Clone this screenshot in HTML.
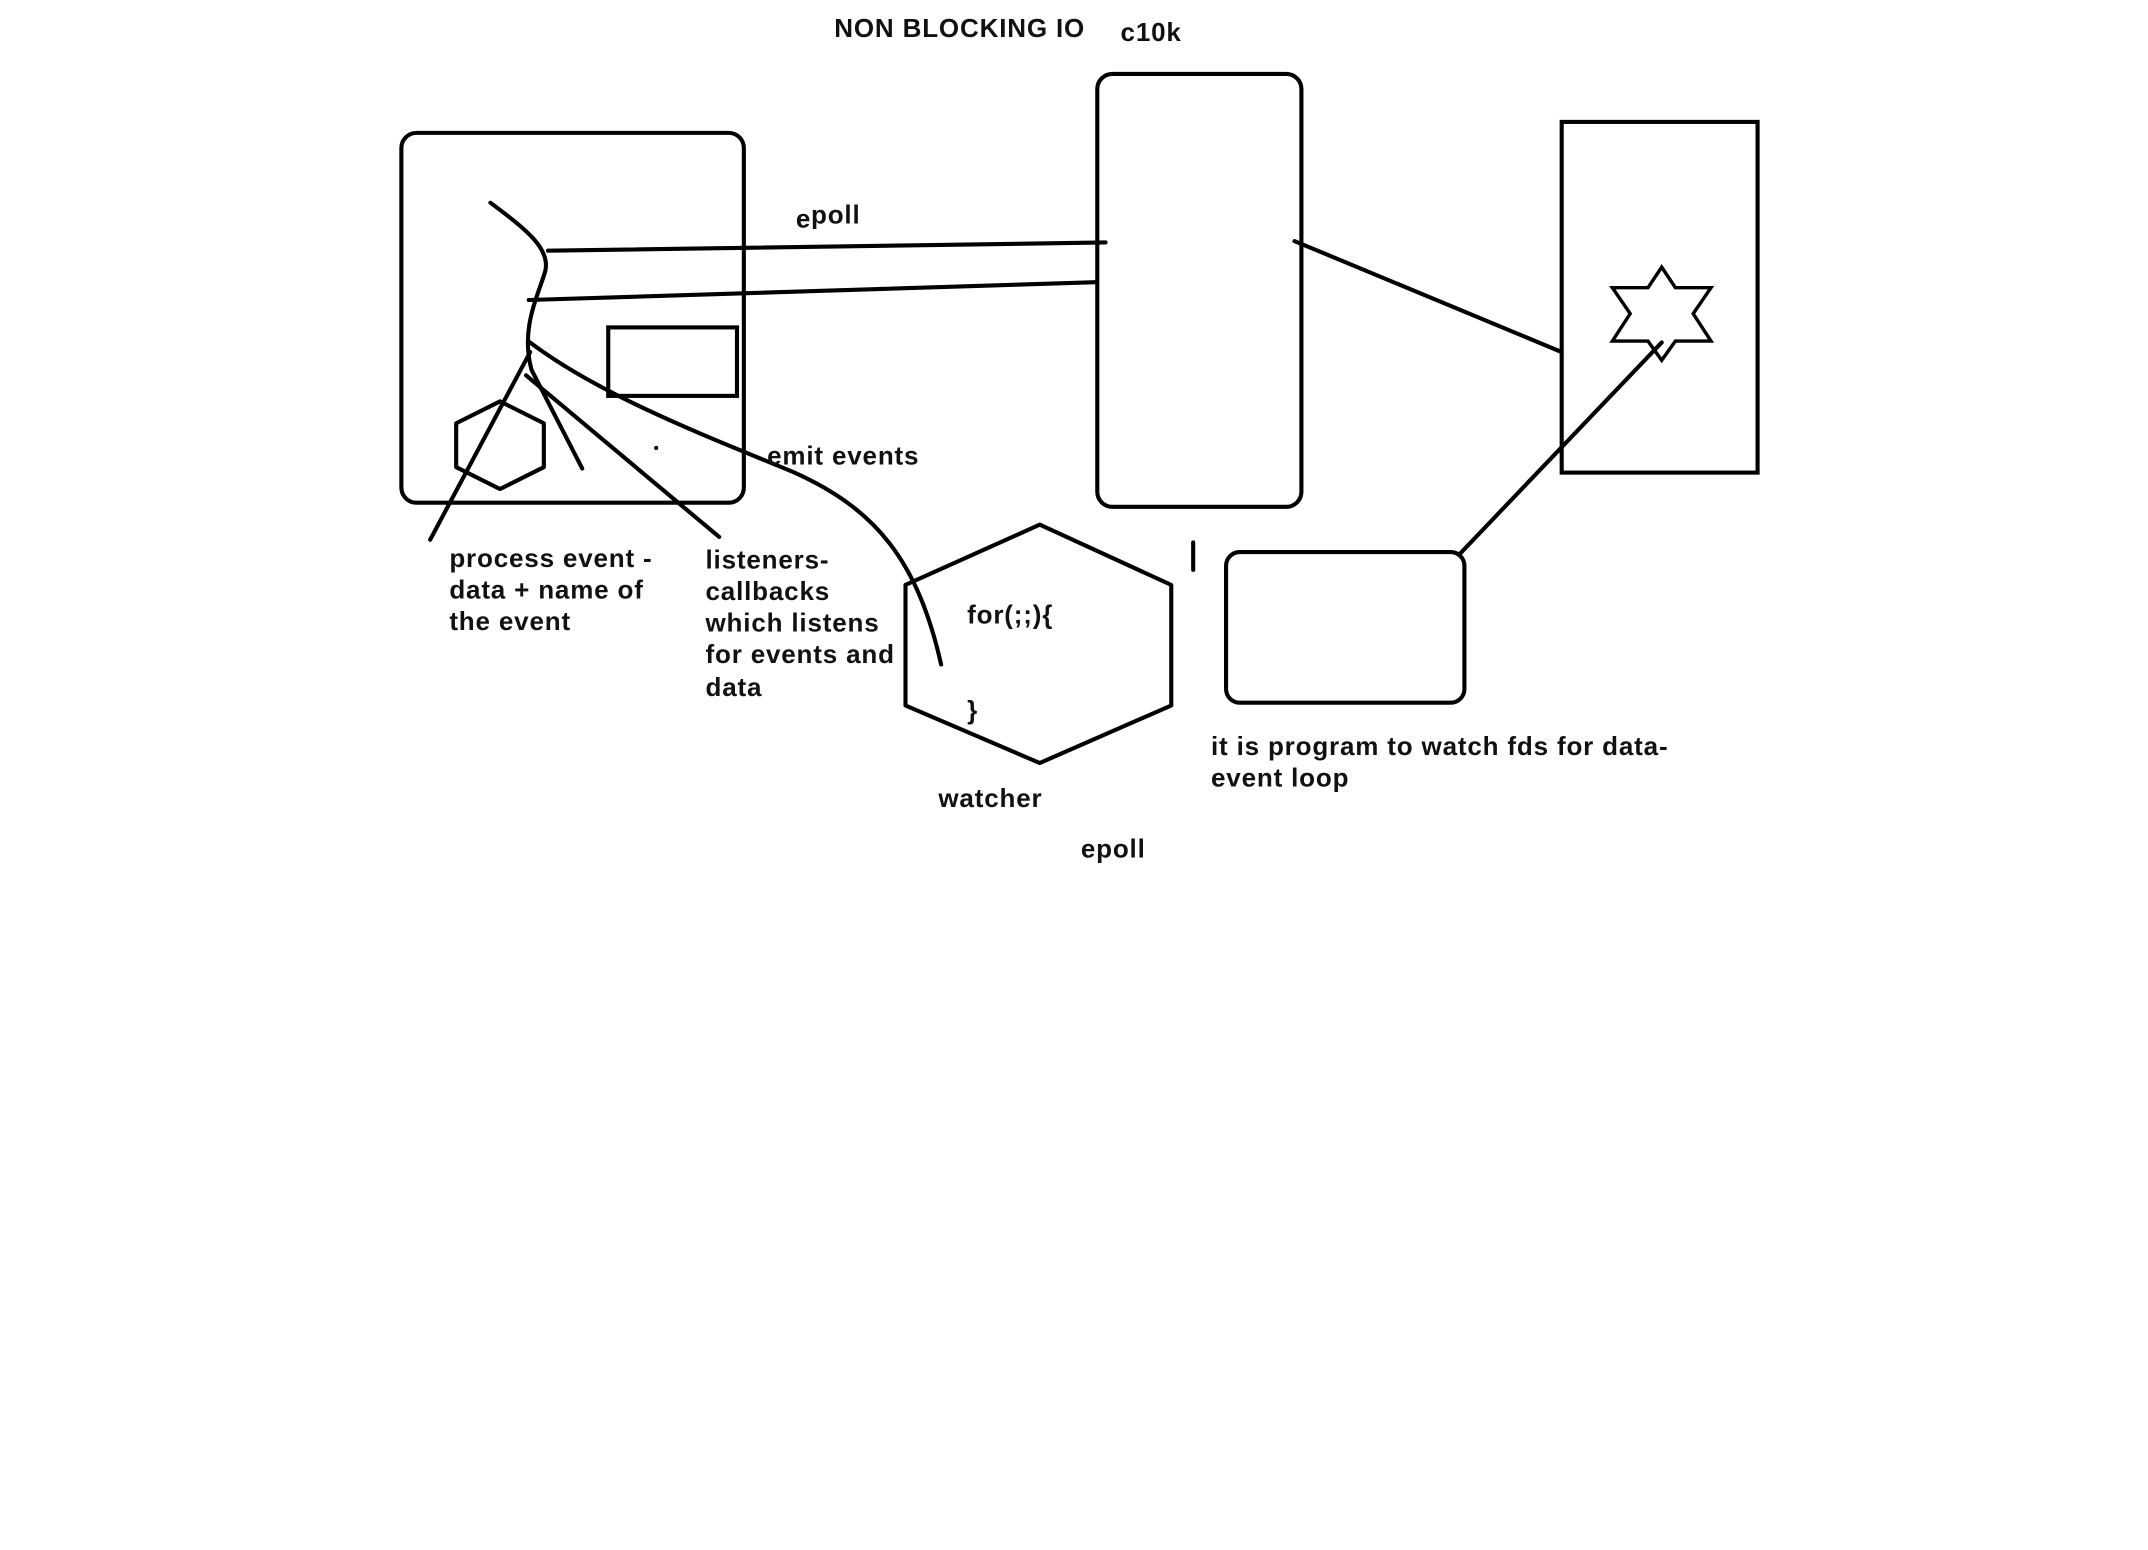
<!DOCTYPE html>
<html><head><style>html,body{margin:0;padding:0;background:#fff;}svg{display:block}</style></head>
<body>
<svg width="2148" height="1550" viewBox="0 0 1568 1131.5" preserveAspectRatio="none" xmlns="http://www.w3.org/2000/svg">
<rect width="1568" height="1131.5" fill="#fff"/>
<g fill="none" stroke="#000" stroke-width="3" stroke-linecap="round" stroke-linejoin="round">
<rect x="293" y="97" width="250" height="270" rx="11"/>
<rect x="801" y="54" width="149" height="316" rx="11"/>
<rect x="1140" y="89" width="143" height="256" stroke-linejoin="miter"/>
<polygon points="1213,195 1223,210 1249,210 1236,229 1249,249 1223,249 1213,263 1203,249 1177,249 1190,229 1177,210 1203,210" stroke-width="2.5" stroke-linejoin="miter"/>
<line x1="945" y1="176" x2="1140" y2="257"/>
<line x1="1213" y1="250" x2="1065" y2="405"/>
<rect x="895" y="403" width="174" height="110" rx="10"/>
<line x1="871" y1="396" x2="871" y2="416"/>
<polygon points="759,383 855,427 855,515 759,557 661,515 661,427"/>
<line x1="400" y1="183" x2="807" y2="177"/>
<line x1="386" y1="219" x2="800" y2="206"/>
<path d="M358,148 C385,168 402,182 398,198 C392,218 380,240 388,270 L425,342"/>
<line x1="387" y1="257" x2="314" y2="394"/>
<line x1="384" y1="274" x2="525" y2="392"/>
<path d="M387,250 C440,290 520,320 580,345 C640,372 670,410 687,485"/>
<rect x="444" y="239" width="94" height="50" stroke-linejoin="miter"/>
<polygon points="365,293 397,309 397,341 365,357 333,341 333,309"/>
</g>
<circle cx="479" cy="327" r="1.5" fill="#000"/>
<g font-family="Liberation Sans, sans-serif" font-size="19" font-weight="bold" fill="#111" letter-spacing="0.6">
<text x="609" y="27">NON BLOCKING IO</text>
<text x="818" y="30">c10k</text>
<text x="581" y="166">e</text><text x="592" y="163">poll</text>
<text x="560" y="339">emit events</text>
<text x="328" y="414">process event -</text>
<text x="328" y="437">data + name of</text>
<text x="328" y="460">the event</text>
<text x="515" y="415">listeners-</text>
<text x="515" y="438">callbacks</text>
<text x="515" y="461">which listens</text>
<text x="515" y="484">for events and</text>
<text x="515" y="508">data</text>
<text x="706" y="455">for(;;){</text>
<text x="706" y="525">}</text>
<text x="685" y="589">watcher</text>
<text x="789" y="626">epoll</text>
<text x="884" y="551">it is program to watch fds for data-</text>
<text x="884" y="574">event loop</text>
</g>
</svg>
</body></html>
